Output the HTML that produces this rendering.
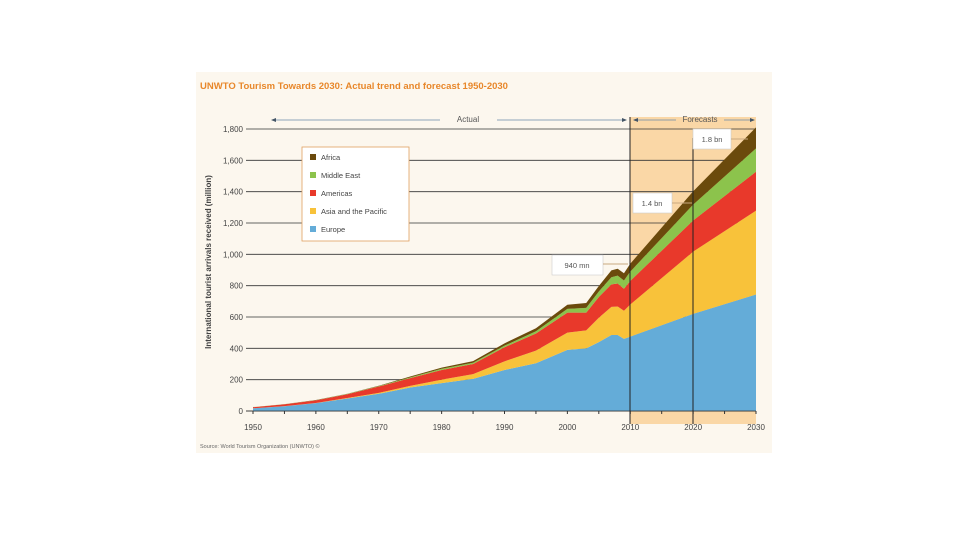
<!DOCTYPE html>
<html><head><meta charset="utf-8"><style>
body{margin:0;width:960px;height:540px;background:#fff;overflow:hidden;font-family:"Liberation Sans",sans-serif}
</style></head><body>
<svg id="chart" width="960" height="540" xmlns="http://www.w3.org/2000/svg" font-family="Liberation Sans, sans-serif">
<rect x="196" y="72" width="576" height="381" fill="#fcf7ee"/>
<text x="200" y="89" font-size="9.5" font-weight="bold" fill="#e8872a">UNWTO Tourism Towards 2030: Actual trend and forecast 1950-2030</text>
<rect x="630" y="117" width="126" height="307" fill="#fad7a6"/>
<g id="grid"></g>
<g id="areas"></g>
<g id="xticks"></g>
<line x1="630" y1="117" x2="630" y2="424" stroke="#222" stroke-width="1"/>
<line x1="693" y1="138" x2="693" y2="424" stroke="#222" stroke-width="1"/>
<g font-size="8" fill="#555">
<line x1="273" y1="120" x2="440" y2="120" stroke="#6a88a8" stroke-width="0.8"/>
<polygon points="271,120 276,118 276,122" fill="#456"/>
<text x="468" y="122" text-anchor="middle">Actual</text>
<line x1="497" y1="120" x2="624" y2="120" stroke="#6a88a8" stroke-width="0.8"/>
<polygon points="627,120 622,118 622,122" fill="#456"/>
<line x1="635" y1="120" x2="676" y2="120" stroke="#6a88a8" stroke-width="0.8"/>
<polygon points="633,120 638,118 638,122" fill="#456"/>
<text x="700" y="122" text-anchor="middle">Forecasts</text>
<line x1="724" y1="120" x2="752" y2="120" stroke="#6a88a8" stroke-width="0.8"/>
<polygon points="755,120 750,118 750,122" fill="#456"/>
</g>
<g font-size="7.5" fill="#444">
<rect x="302" y="147" width="107" height="94" fill="#fff" stroke="#e0a060" stroke-width="0.8"/>
<rect x="310" y="154" width="6" height="6" fill="#6b4a0c"/><text x="321" y="160">Africa</text>
<rect x="310" y="172" width="6" height="6" fill="#8cc34c"/><text x="321" y="178">Middle East</text>
<rect x="310" y="190" width="6" height="6" fill="#e8392b"/><text x="321" y="196">Americas</text>
<rect x="310" y="208" width="6" height="6" fill="#f8c23a"/><text x="321" y="214">Asia and the Pacific</text>
<rect x="310" y="226" width="6" height="6" fill="#64acd8"/><text x="321" y="232">Europe</text>
</g>
<g font-size="7.5" fill="#555">
<rect x="693" y="129" width="38" height="20" fill="#fff" stroke="#ccc" stroke-width="0.6"/><text x="712" y="142" text-anchor="middle">1.8 bn</text>
<line x1="731" y1="139" x2="748" y2="139" stroke="#c9a880"/>
<rect x="633" y="193" width="39" height="20" fill="#fff" stroke="#ccc" stroke-width="0.6"/><text x="652" y="206" text-anchor="middle">1.4 bn</text>
<line x1="672" y1="203" x2="692" y2="203" stroke="#c9a880"/>
<rect x="552" y="255" width="51" height="20" fill="#fff" stroke="#ccc" stroke-width="0.6"/><text x="577" y="268" text-anchor="middle">940 mn</text>
<line x1="603" y1="264" x2="628" y2="264" stroke="#c9a880"/>
</g>
<text transform="translate(211,262) rotate(-90)" font-size="8" font-weight="bold" fill="#444" text-anchor="middle">International tourist arrivals received (million)</text>
<text x="200" y="448" font-size="5.5" fill="#666">Source: World Tourism Organization (UNWTO) ©</text>
</svg>
<script>
const years=[1950,1955,1960,1965,1970,1975,1980,1985,1990,1995,2000,2003,2005,2007,2008,2009,2010,2020,2030];
const europe=[17,30,50,80,110,150,178,205,262,305,390,400,440,485,485,460,475,620,744];
const asia=[0.5,1,1,3,6,10,22,30,55,80,110,115,155,180,182,180,205,397,535];
const americas=[7,12,17,24,40,50,62,65,90,110,128,113,133,143,147,140,150,199,248];
const middleEast=[0.2,0.5,1,2,3,5,8,8,10,14,24,30,35,46,50,53,60,101,149];
const africa=[0.5,0.7,1,1.5,2,5,7,10,15,19,26,31,35,44,44,46,50,85,134];
const yTicks=[0,200,400,600,800,1000,1200,1400,1600,1800];
const xTicks=[1950,1960,1970,1980,1990,2000,2010,2020,2030];
const X=y=>253+(y-1950)*(756-253)/80;
const Y=v=>411-v*(411-129)/1800;
const NS='http://www.w3.org/2000/svg';
const series=[[europe,'#64acd8','area-europe'],[asia,'#f8c23a','area-asia-pacific'],[americas,'#e8392b','area-americas'],[middleEast,'#8cc34c','area-middle-east'],[africa,'#6b4a0c','area-africa']];
const cum=years.map(()=>0);
const areas=document.getElementById('areas');
series.forEach(([vals,col,name])=>{
  const lower=cum.slice();
  vals.forEach((v,i)=>cum[i]+=v);
  let d='M'+years.map((y,i)=>X(y)+','+Y(cum[i])).join('L');
  for(let i=years.length-1;i>=0;i--) d+='L'+X(years[i])+','+Y(lower[i]);
  const p=document.createElementNS(NS,'path');
  p.setAttribute('d',d+'Z');p.setAttribute('fill',col);
  
  
  areas.appendChild(p);
});
const grid=document.getElementById('grid');
yTicks.forEach(t=>{
  const l=document.createElementNS(NS,'line');
  l.setAttribute('x1',246);l.setAttribute('x2',756);l.setAttribute('y1',Y(t));l.setAttribute('y2',Y(t));
  l.setAttribute('stroke','#333');l.setAttribute('stroke-width',0.8);
  
  
  grid.appendChild(l);
  const tx=document.createElementNS(NS,'text');
  tx.setAttribute('x',243);tx.setAttribute('y',Y(t)+3);tx.setAttribute('text-anchor','end');
  tx.setAttribute('font-size',8);tx.setAttribute('fill','#444');
  tx.textContent=t.toLocaleString('en-US');
  
  
  grid.appendChild(tx);
});
const xg=document.getElementById('xticks');
const base=document.createElementNS(NS,'line');
base.setAttribute('x1',246);base.setAttribute('x2',756);base.setAttribute('y1',411);base.setAttribute('y2',411);
base.setAttribute('stroke','#333');base.setAttribute('stroke-width',0.8);


xg.appendChild(base);
xTicks.forEach(t=>{
  const tx=document.createElementNS(NS,'text');
  tx.setAttribute('x',X(t));tx.setAttribute('y',430);tx.setAttribute('text-anchor','middle');
  tx.setAttribute('font-size',8);tx.setAttribute('fill','#444');
  tx.textContent=t;
  
  
  xg.appendChild(tx);
});
for(let y=1950;y<=2030;y+=5){
  const l=document.createElementNS(NS,'line');
  l.setAttribute('x1',X(y));l.setAttribute('x2',X(y));l.setAttribute('y1',411);l.setAttribute('y2',414);
  l.setAttribute('stroke','#333');
  
  
  xg.appendChild(l);
}
</script>
</body></html>
